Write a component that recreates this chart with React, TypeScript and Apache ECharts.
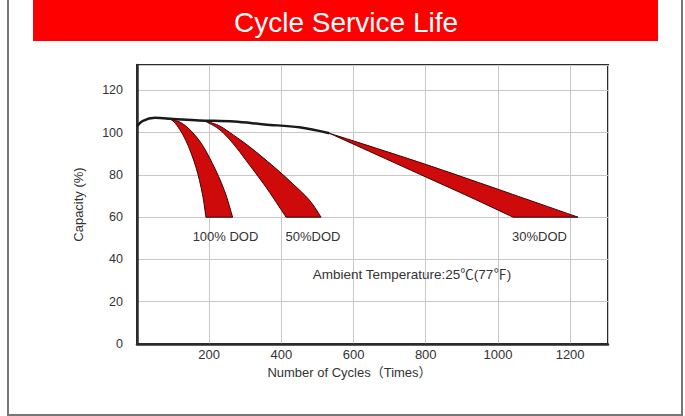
import React, { useEffect, useRef } from "react";
import * as echarts from "echarts";

// ---- data (cycles, capacity %) ----
const xTicks = [200, 400, 600, 800, 1000, 1200];
const yTicks = [0, 20, 40, 60, 80, 100, 120];

const topLine: [number, number][] = [
  [0, 103], [15, 105.5], [50, 107], [100, 106.5], [172, 105.8],
  [269, 105.3], [353, 103.9], [450, 102.5], [533, 99.7],
];

const dod100Upper: [number, number][] = [
  [80, 106.7], [103, 105], [135, 96.4], [163, 83.8], [181, 71.2], [191, 60],
];
const dod100Lower: [number, number][] = [
  [80, 106.7], [126, 104.3], [172, 96.4], [209, 85.4], [242, 72.7], [265, 60],
];

const dod50Upper: [number, number][] = [
  [185, 105.7], [220, 102.5], [246, 98.7], [274, 93.2], [302, 86.9],
  [357, 74.3], [394, 64.9], [413, 60],
];
const dod50Lower: [number, number][] = [
  [185, 105.7], [225, 103.5], [256, 100.2], [302, 94.6], [339, 89.6],
  [385, 83], [431, 75.9], [478, 68], [510, 60],
];

const dod30Upper: [number, number][] = [
  [533, 99.7], [625, 94.7], [803, 84.8], [997, 73.4], [1222, 60],
];
const dod30Lower: [number, number][] = [
  [533, 99.7], [625, 92.6], [803, 78.8], [922, 69.6], [1042, 60],
];

const bands = [
  { name: "100% DOD", upper: dod100Upper, lower: dod100Lower },
  { name: "50%DOD", upper: dod50Upper, lower: dod50Lower },
  { name: "30%DOD", upper: dod30Upper, lower: dod30Lower },
];

const FONT = "'Liberation Sans', Arial, 'Noto Sans CJK SC', sans-serif";
const RED = "#cf0a0a";

function curveThrough(pts: number[][], first: boolean): string {
  // Catmull-Rom through pixel points, returned as SVG path commands
  let d = first ? `M${pts[0][0]},${pts[0][1]}` : `L${pts[0][0]},${pts[0][1]}`;
  for (let i = 0; i < pts.length - 1; i++) {
    const p0 = pts[i - 1] || pts[i];
    const p1 = pts[i];
    const p2 = pts[i + 1];
    const p3 = pts[i + 2] || p2;
    const c1x = p1[0] + (p2[0] - p0[0]) / 6;
    const c1y = p1[1] + (p2[1] - p0[1]) / 6;
    const c2x = p2[0] - (p3[0] - p1[0]) / 6;
    const c2y = p2[1] - (p3[1] - p1[1]) / 6;
    d += `C${c1x},${c1y},${c2x},${c2y},${p2[0]},${p2[1]}`;
  }
  return d;
}

function bandSeries(band: { name: string; upper: [number, number][]; lower: [number, number][] }) {
  return {
    type: "custom",
    name: band.name,
    coordinateSystem: "cartesian2d",
    silent: true,
    clip: true,
    z: 2,
    data: [band.upper[0]],
    renderItem: (_params: any, api: any) => {
      const up = band.upper.map((p) => api.coord(p));
      const lo = band.lower.map((p) => api.coord(p)).reverse();
      const d = curveThrough(up, true) + curveThrough(lo, false) + "Z";
      return {
        type: "path",
        shape: { pathData: d },
        style: { fill: RED, stroke: "#3a0505", lineWidth: 1 },
      };
    },
  };
}

export default function App() {
  const ref = useRef<HTMLDivElement>(null);

  useEffect(() => {
    if (!ref.current) return;
    const chart = echarts.init(ref.current, null, { renderer: "svg" });
    chart.setOption({
      animation: false,
      backgroundColor: "#ffffff",
      textStyle: { fontFamily: FONT },
      grid: {
        left: 137,
        right: 77,
        top: 65,
        bottom: 72,
        show: true,
        borderColor: "#2b2b2b",
        borderWidth: 2,
        backgroundColor: "transparent",
      },
      xAxis: {
        type: "value",
        min: 0,
        max: 1305,
        interval: 200,
        name: "Number of Cycles（Times）",
        nameLocation: "middle",
        nameGap: 21,
        nameTextStyle: { fontSize: 13, color: "#333", fontFamily: FONT, padding: [0, 46, 0, 0] },
        axisLine: { show: true, lineStyle: { color: "#2b2b2b", width: 2.5 } },
        axisTick: { show: false },
        axisLabel: {
          fontSize: 13,
          color: "#333",
          margin: 4,
          showMinLabel: false,
          showMaxLabel: false,
          fontFamily: FONT,
          formatter: (v: number) => (xTicks.includes(v) ? String(v) : ""),
        },
        splitLine: { show: true, lineStyle: { color: "#c8c8c8", width: 1 } },
      },
      yAxis: {
        type: "value",
        min: 0,
        max: 132,
        interval: 20,
        name: "Capacity (%)",
        nameLocation: "middle",
        nameGap: 52,
        nameTextStyle: { fontSize: 13, color: "#333", fontFamily: FONT },
        axisLine: { show: true, lineStyle: { color: "#2b2b2b", width: 2.5 } },
        axisTick: { show: false },
        axisLabel: {
          fontSize: 12.5,
          color: "#333",
          margin: 14,
          showMaxLabel: false,
          fontFamily: FONT,
          formatter: (v: number) => (yTicks.includes(v) ? String(v) : ""),
        },
        splitLine: { show: true, lineStyle: { color: "#c8c8c8", width: 1 } },
      },
      series: [
        ...bands.map(bandSeries),
        {
          type: "line",
          name: "initial",
          data: topLine,
          smooth: 0.35,
          symbol: "none",
          z: 3,
          silent: true,
          lineStyle: { color: "#1a1a1a", width: 2.5 },
        },
      ],
      graphic: [
        {
          type: "rect",
          shape: { x: 8, y: -5, width: 674, height: 420 },
          style: { fill: "transparent", stroke: "#777", lineWidth: 2 },
          z: 10,
        },
        {
          type: "rect",
          shape: { x: 33, y: 0, width: 625, height: 41 },
          style: { fill: "#ff0000" },
          z: 10,
        },
        {
          type: "text",
          x: 346,
          y: 22,
          style: {
            text: "Cycle Service Life",
            fill: "#ffffff",
            fontSize: 28,
            fontFamily: FONT,
            textAlign: "center",
            textVerticalAlign: "middle",
          },
          z: 11,
        },
        {
          type: "text",
          x: 225.5,
          y: 236,
          style: { text: "100% DOD", fill: "#333", fontSize: 13, fontFamily: FONT, textAlign: "center", textVerticalAlign: "middle" },
          z: 11,
        },
        {
          type: "text",
          x: 313,
          y: 236,
          style: { text: "50%DOD", fill: "#333", fontSize: 13, fontFamily: FONT, textAlign: "center", textVerticalAlign: "middle" },
          z: 11,
        },
        {
          type: "text",
          x: 539.5,
          y: 236,
          style: { text: "30%DOD", fill: "#333", fontSize: 13, fontFamily: FONT, textAlign: "center", textVerticalAlign: "middle" },
          z: 11,
        },
        {
          type: "text",
          x: 412,
          y: 274.5,
          style: {
            text: "Ambient Temperature:25℃(77℉)",
            fill: "#333",
            fontSize: 13.5,
            fontFamily: FONT,
            textAlign: "center",
            textVerticalAlign: "middle",
          },
          z: 11,
        },
      ],
    });
    return () => chart.dispose();
  }, []);

  return (
    <div
      ref={ref}
      style={{ position: "absolute", left: 0, top: 0, width: 685, height: 416 }}
    />
  );
}
